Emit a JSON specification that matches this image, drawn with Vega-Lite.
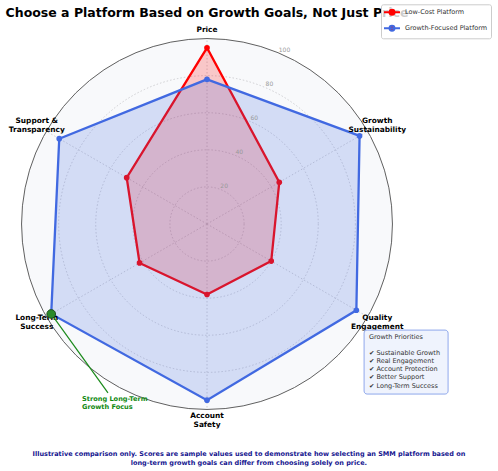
{
  "$schema": "https://vega.github.io/schema/vega-lite/v6.json",
  "width": 408,
  "height": 408,
  "autosize": {"type": "none"},
  "padding": {"left": 3, "top": 20, "right": 87, "bottom": 43},
  "background": "white",
  "config": {"view": {"stroke": null}, "font": "DejaVu Sans"},
  "title": {
    "text": "Choose a Platform Based on Growth Goals, Not Just Price",
    "font": "DejaVu Sans",
    "fontSize": 12.5,
    "fontWeight": "bold",
    "color": "black",
    "anchor": "middle",
    "frame": "group",
    "offset": 1.5,
    "dy": 17,
    "zindex": 0
  },
  "datasets": {
    "scores": [
      {"platform": "Low-Cost Platform", "axis": "Price", "idx": 0, "score": 95},
      {"platform": "Low-Cost Platform", "axis": "Growth Sustainability", "idx": 1, "score": 45},
      {"platform": "Low-Cost Platform", "axis": "Quality Engagement", "idx": 2, "score": 40},
      {"platform": "Low-Cost Platform", "axis": "Account Safety", "idx": 3, "score": 38},
      {"platform": "Low-Cost Platform", "axis": "Long-Term Success", "idx": 4, "score": 42},
      {"platform": "Low-Cost Platform", "axis": "Support & Transparency", "idx": 5, "score": 50},
      {"platform": "Growth-Focused Platform", "axis": "Price", "idx": 0, "score": 78},
      {"platform": "Growth-Focused Platform", "axis": "Growth Sustainability", "idx": 1, "score": 95},
      {"platform": "Growth-Focused Platform", "axis": "Quality Engagement", "idx": 2, "score": 93},
      {"platform": "Growth-Focused Platform", "axis": "Account Safety", "idx": 3, "score": 95},
      {"platform": "Growth-Focused Platform", "axis": "Long-Term Success", "idx": 4, "score": 97},
      {"platform": "Growth-Focused Platform", "axis": "Support & Transparency", "idx": 5, "score": 92}
    ],
    "spokes": [
      {"idx": 0, "label": "Price"},
      {"idx": 1, "label": "Growth\nSustainability"},
      {"idx": 2, "label": "Quality\nEngagement"},
      {"idx": 3, "label": "Account\nSafety"},
      {"idx": 4, "label": "Long-Term\nSuccess"},
      {"idx": 5, "label": "Support &\nTransparency"}
    ],
    "rings": [{"r": 20}, {"r": 40}, {"r": 60}, {"r": 80}],
    "rlabels": [
      {"r": 20, "label": "20"}, {"r": 40, "label": "40"}, {"r": 60, "label": "60"},
      {"r": 80, "label": "80"}, {"r": 100, "label": "100"}
    ]
  },
  "layer": [
    {
      "data": {"values": [{"r": 100}]},
      "transform": [{"calculate": "0", "as": "cx"}, {"calculate": "0", "as": "cy"}],
      "mark": {"type": "point", "shape": "circle", "filled": true, "fill": "#f8f9fb", "stroke": "#606060", "strokeWidth": 1, "opacity": 1, "fillOpacity": 1},
      "encoding": {
        "x": {"field": "cx", "type": "quantitative", "scale": {"domain": [-110, 110], "nice": false, "zero": false}, "axis": null},
        "y": {"field": "cy", "type": "quantitative", "scale": {"domain": [-110, 110], "nice": false, "zero": false}, "axis": null},
        "size": {"field": "r", "type": "quantitative", "scale": {"type": "pow", "exponent": 2, "domain": [0, 100], "range": [0, 137570], "zero": true, "nice": false}, "legend": null}
      }
    },
    {
      "data": {"name": "rings"},
      "transform": [{"calculate": "0", "as": "cx"}, {"calculate": "0", "as": "cy"}],
      "mark": {"type": "point", "shape": "circle", "filled": false, "stroke": "#c4c4c8", "strokeWidth": 0.8, "strokeDash": [1.5, 2], "opacity": 1},
      "encoding": {
        "x": {"field": "cx", "type": "quantitative", "axis": null},
        "y": {"field": "cy", "type": "quantitative", "axis": null},
        "size": {"field": "r", "type": "quantitative", "legend": null}
      }
    },
    {
      "data": {"name": "spokes"},
      "transform": [
        {"calculate": "0", "as": "cx"},
        {"calculate": "0", "as": "cy"},
        {"calculate": "100 * sin(datum.idx * PI / 3)", "as": "ex"},
        {"calculate": "100 * cos(datum.idx * PI / 3)", "as": "ey"}
      ],
      "mark": {"type": "rule", "stroke": "#c4c4c8", "strokeWidth": 0.8, "strokeDash": [1.5, 2]},
      "encoding": {
        "x": {"field": "cx", "type": "quantitative", "axis": null},
        "y": {"field": "cy", "type": "quantitative", "axis": null},
        "x2": {"field": "ex"},
        "y2": {"field": "ey"}
      }
    },
    {
      "data": {"name": "scores"},
      "transform": [
        {"filter": "datum.platform === 'Low-Cost Platform'"},
        {"calculate": "datum.score * sin(datum.idx * PI / 3)", "as": "px"},
        {"calculate": "datum.score * cos(datum.idx * PI / 3)", "as": "py"}
      ],
      "mark": {"type": "line", "interpolate": "linear-closed", "fill": "#ff0000", "fillOpacity": 0.2, "strokeWidth": 2.3},
      "encoding": {
        "x": {"field": "px", "type": "quantitative", "axis": null},
        "y": {"field": "py", "type": "quantitative", "axis": null},
        "order": {"field": "idx", "type": "quantitative"},
        "color": {
          "field": "platform",
          "type": "nominal",
          "scale": {"domain": ["Low-Cost Platform", "Growth-Focused Platform"], "range": ["#ff0000", "#4169e1"]},
          "legend": {
            "orient": "none",
            "legendX": 378,
            "legendY": -15.7,
            "zindex": 2,
            "title": null,
            "labelFont": "DejaVu Sans",
            "labelFontSize": 6.5,
            "labelColor": "#333333",
            "labelOffset": 11,
            "symbolType": "M-1.25,0H2.75M1.37,0A0.62,0.62,0,1,1,0.13,0A0.62,0.62,0,1,1,1.37,0Z",
            "symbolSize": 64,
            "symbolStrokeWidth": 2,
            "rowPadding": 2,
            "padding": 3,
            "fillColor": "rgba(255,255,255,0.8)",
            "strokeColor": "#cccccc",
            "cornerRadius": 2,
            "encode": {
              "symbols": {"update": {"fill": {"scale": "color", "field": "value"}, "fillOpacity": {"value": 1}}}
            }
          }
        }
      }
    },
    {
      "data": {"name": "scores"},
      "transform": [
        {"filter": "datum.platform === 'Low-Cost Platform'"},
        {"calculate": "datum.score * sin(datum.idx * PI / 3)", "as": "px"},
        {"calculate": "datum.score * cos(datum.idx * PI / 3)", "as": "py"}
      ],
      "mark": {"type": "circle", "color": "#ff0000", "size": 32, "opacity": 1},
      "encoding": {
        "x": {"field": "px", "type": "quantitative", "axis": null},
        "y": {"field": "py", "type": "quantitative", "axis": null}
      }
    },
    {
      "data": {"name": "scores"},
      "transform": [
        {"filter": "datum.platform === 'Growth-Focused Platform'"},
        {"calculate": "datum.score * sin(datum.idx * PI / 3)", "as": "px"},
        {"calculate": "datum.score * cos(datum.idx * PI / 3)", "as": "py"}
      ],
      "mark": {"type": "line", "interpolate": "linear-closed", "fill": "#4169e1", "fillOpacity": 0.2, "strokeWidth": 2.3},
      "encoding": {
        "x": {"field": "px", "type": "quantitative", "axis": null},
        "y": {"field": "py", "type": "quantitative", "axis": null},
        "order": {"field": "idx", "type": "quantitative"},
        "color": {"field": "platform", "type": "nominal"}
      }
    },
    {
      "data": {"name": "scores"},
      "transform": [
        {"filter": "datum.platform === 'Growth-Focused Platform'"},
        {"calculate": "datum.score * sin(datum.idx * PI / 3)", "as": "px"},
        {"calculate": "datum.score * cos(datum.idx * PI / 3)", "as": "py"}
      ],
      "mark": {"type": "circle", "color": "#4169e1", "size": 32, "opacity": 1},
      "encoding": {
        "x": {"field": "px", "type": "quantitative", "axis": null},
        "y": {"field": "py", "type": "quantitative", "axis": null}
      }
    },
    {
      "data": {"name": "spokes"},
      "transform": [
        {"filter": "datum.idx === 0"},
        {"calculate": "106 * sin(datum.idx * PI / 3)", "as": "lx"},
        {"calculate": "106 * cos(datum.idx * PI / 3)", "as": "ly"}
      ],
      "mark": {"type": "text", "font": "DejaVu Sans", "fontSize": 7.4, "fontWeight": "bold", "color": "black", "align": "center", "baseline": "middle", "dy": 2.5},
      "encoding": {
        "x": {"field": "lx", "type": "quantitative", "axis": null},
        "y": {"field": "ly", "type": "quantitative", "axis": null},
        "text": {"field": "label", "type": "nominal"}
      }
    },
    {
      "data": {"name": "spokes"},
      "transform": [
        {"filter": "datum.idx > 0"},
        {"calculate": "106 * sin(datum.idx * PI / 3)", "as": "lx"},
        {"calculate": "106 * cos(datum.idx * PI / 3)", "as": "ly"}
      ],
      "mark": {"type": "text", "font": "DejaVu Sans", "fontSize": 7.4, "fontWeight": "bold", "color": "black", "align": "center", "baseline": "middle", "lineBreak": "\n", "lineHeight": 8.6, "dy": -4.3},
      "encoding": {
        "x": {"field": "lx", "type": "quantitative", "axis": null},
        "y": {"field": "ly", "type": "quantitative", "axis": null},
        "text": {"field": "label", "type": "nominal"}
      }
    },
    {
      "data": {"name": "rlabels"},
      "transform": [
        {"calculate": "(datum.r + 2.7) * sin(24 * PI / 180)", "as": "tx"},
        {"calculate": "(datum.r + 2.7) * cos(24 * PI / 180)", "as": "ty"}
      ],
      "mark": {"type": "text", "font": "DejaVu Sans", "fontSize": 6, "color": "#999999", "align": "center", "baseline": "middle"},
      "encoding": {
        "x": {"field": "tx", "type": "quantitative", "axis": null},
        "y": {"field": "ty", "type": "quantitative", "axis": null},
        "text": {"field": "label", "type": "nominal"}
      }
    },
    {
      "data": {"values": [{"ax": -84.0, "ay": -48.5, "bx": -53.4, "by": -91.1}]},
      "mark": {"type": "rule", "color": "#1a8a1a", "strokeWidth": 1.2},
      "encoding": {
        "x": {"field": "ax", "type": "quantitative", "axis": null},
        "y": {"field": "ay", "type": "quantitative", "axis": null},
        "x2": {"field": "bx"},
        "y2": {"field": "by"}
      }
    },
    {
      "data": {"name": "scores"},
      "transform": [
        {"filter": "datum.platform === 'Growth-Focused Platform' && datum.axis === 'Long-Term Success'"},
        {"calculate": "datum.score * sin(datum.idx * PI / 3)", "as": "px"},
        {"calculate": "datum.score * cos(datum.idx * PI / 3)", "as": "py"}
      ],
      "mark": {"type": "point", "shape": "circle", "filled": true, "fill": "#2a8a2a", "stroke": "#1f4d1f", "strokeWidth": 1, "size": 75, "opacity": 1},
      "encoding": {
        "x": {"field": "px", "type": "quantitative", "axis": null},
        "y": {"field": "py", "type": "quantitative", "axis": null}
      }
    },
    {
      "data": {"values": [{"ax": -67.4, "ay": -94.2, "note": "Strong Long-Term\nGrowth Focus"}]},
      "mark": {"type": "text", "font": "DejaVu Sans", "fontSize": 6.6, "fontWeight": "bold", "color": "#118a11", "align": "left", "baseline": "middle", "lineBreak": "\n", "lineHeight": 8},
      "encoding": {
        "x": {"field": "ax", "type": "quantitative", "axis": null},
        "y": {"field": "ay", "type": "quantitative", "axis": null},
        "text": {"field": "note", "type": "nominal"}
      }
    },
    {
      "data": {"values": [{"ax": 84.7, "bx": 130.0, "ay": -57.2, "by": -91.7}]},
      "mark": {"type": "rect", "fill": "#eff3fd", "stroke": "#8fa8ec", "strokeWidth": 1, "cornerRadius": 3},
      "encoding": {
        "x": {"field": "ax", "type": "quantitative", "axis": null},
        "x2": {"field": "bx"},
        "y": {"field": "ay", "type": "quantitative", "axis": null},
        "y2": {"field": "by"}
      }
    },
    {
      "data": {"values": [
        {"ax": 87.3, "ay": -61.1, "note": "Growth Priorities"},
        {"ax": 87.3, "ay": -69.7, "note": "✔ Sustainable Growth\n✔ Real Engagement\n✔ Account Protection\n✔ Better Support\n✔ Long-Term Success"}
      ]},
      "mark": {"type": "text", "font": "DejaVu Sans", "fontSize": 6.5, "color": "#333333", "align": "left", "baseline": "middle", "lineBreak": "\n", "lineHeight": 8.07},
      "encoding": {
        "x": {"field": "ax", "type": "quantitative", "axis": null},
        "y": {"field": "ay", "type": "quantitative", "axis": null},
        "text": {"field": "note", "type": "nominal"}
      }
    },
    {
      "data": {"values": [{"ax": 22.6, "ay": -124.0, "note": "Illustrative comparison only. Scores are sample values used to demonstrate how selecting an SMM platform based on\nlong-term growth goals can differ from choosing solely on price."}]},
      "mark": {"type": "text", "font": "DejaVu Sans", "fontSize": 6.5, "fontWeight": "bold", "color": "#15158f", "align": "center", "baseline": "middle", "lineBreak": "\n", "lineHeight": 8.6},
      "encoding": {
        "x": {"field": "ax", "type": "quantitative", "axis": null},
        "y": {"field": "ay", "type": "quantitative", "axis": null},
        "text": {"field": "note", "type": "nominal"}
      }
    }
  ]
}
